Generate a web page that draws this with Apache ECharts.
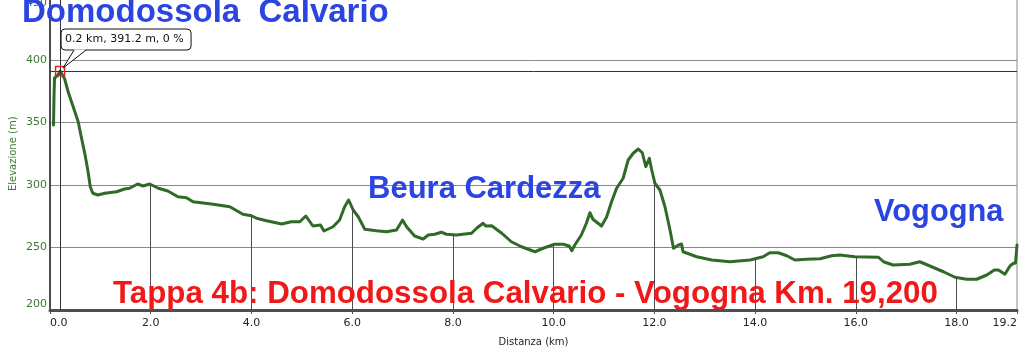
<!DOCTYPE html>
<html><head><meta charset="utf-8">
<script src="https://cdn.jsdelivr.net/npm/echarts/dist/echarts.min.js"></script>
<style>html,body{margin:0;padding:0;background:#fff}#c{width:1024px;height:364px}</style>
</head><body><div id="c"></div>
<script>
// ---- data ----
const distanceKm = [0.07,0.08,0.09,0.16,0.2,0.29,0.36,0.46,0.56,0.62,0.69,0.75,0.80,0.85,0.95,1.09,1.32,1.48,1.58,1.74,1.85,1.98,2.15,2.34,2.54,2.71,2.84,3.24,3.57,3.83,4.0,4.10,4.30,4.60,4.79,4.96,5.08,5.22,5.37,5.44,5.62,5.75,5.85,5.93,6.02,6.12,6.25,6.48,6.68,6.88,7.00,7.08,7.24,7.41,7.51,7.64,7.77,7.87,8.07,8.37,8.47,8.60,8.65,8.77,8.97,9.16,9.36,9.63,9.79,10.02,10.19,10.31,10.36,10.42,10.55,10.65,10.72,10.78,10.95,11.05,11.15,11.25,11.38,11.48,11.58,11.68,11.76,11.83,11.90,11.94,12.01,12.11,12.21,12.31,12.38,12.48,12.54,12.57,12.84,13.14,13.50,13.90,14.16,14.29,14.46,14.63,14.79,15.02,15.29,15.52,15.68,15.98,16.45,16.55,16.74,17.07,17.27,17.47,17.74,17.97,18.20,18.40,18.60,18.75,18.83,18.96,19.06,19.13,19.17,19.2];
const elevationM = [348,372,385.6,388,391.2,385,374.6,362.6,350.6,338.6,325.4,312,298.6,293.4,292,293.4,294.6,296.8,297.4,300.8,299.2,300.8,297.4,295.2,290.6,289.8,286.6,284.6,282.6,276.6,275.4,273.4,271.4,268.8,270.6,270.6,275.2,267.2,268,263.2,266.6,272,282.6,288,280,274.6,264.6,263.4,262.6,264,272,266.6,259.2,256.8,260,260.6,262.2,260.6,260,261.4,265.4,269.4,267.2,267.4,261.4,254.6,250.6,246.6,249.4,252.6,252.6,251.2,247.4,252,260,269.4,277.8,272.6,267.2,274.2,286.6,297.4,305.4,320,325.4,328.8,325.8,314.6,321.4,313.4,301.4,296,282.6,264,249.4,252,252.8,246.6,242.6,240,238.6,240,242.6,245.8,245.8,243.4,240,240.6,241,243.4,244,242.6,242.2,238.6,236,236.6,238.6,235.2,230.6,226.2,224.6,224.6,228,232,232,228.6,235.2,237.4,237.4,252];
const dropLineKm = [2,4,6,8,10,12,14,16,18];
const cursorKm = 0.2;
const cursorElev = 391.2;
const cursorText = '0.2 km, 391.2 m, 0 %';
const startTitle = 'Domodossola  Calvario';
const midTitle = 'Beura Cardezza';
const endTitle = 'Vogogna';
const stageTitle = 'Tappa 4b: Domodossola Calvario - Vogogna Km. 19,200';
const xName = 'Distanza (km)';
const yName = 'Elevazione (m)';
const xMin = 0, xMax = 19.2, xStep = 2;
const yMin = 200, yMax = 450, yStep = 50;

// ---- build ----
const profile = distanceKm.map((d, i) => [d, elevationM[i]]);
function elevAt(k) {
  for (let i = 1; i < distanceKm.length; i++) {
    if (distanceKm[i] >= k) {
      const t = (k - distanceKm[i-1]) / (distanceKm[i] - distanceKm[i-1]);
      return elevationM[i-1] + t * (elevationM[i] - elevationM[i-1]);
    }
  }
  return elevationM[elevationM.length - 1];
}
const GREEN = '#2f6b26';
const AXIS_GREEN = '#3d7a2e';
const chart = echarts.init(document.getElementById('c'), null, {renderer: 'canvas'});
const titleFont = '"Liberation Sans", Arial, sans-serif';
const smallFont = '"DejaVu Sans", Verdana, sans-serif';

chart.setOption({
  animation: false,
  backgroundColor: '#fff',
  grid: {left: 50, right: 7, top: -2.5, bottom: 54, show: true, borderColor: '#8a8a8a', borderWidth: 1, containLabel: false, outerBoundsMode: 'none'},
  xAxis: {
    type: 'value', min: xMin, max: xMax, interval: xStep,
    name: xName, nameLocation: 'middle', nameGap: 27,
    nameTextStyle: {color: '#222', fontSize: 10, fontFamily: smallFont},
    axisLine: {show: true, lineStyle: {color: '#4a5050', width: 3}},
    axisTick: {show: true, length: 4, lineStyle: {color: '#4a5050', width: 1}},
    axisLabel: {color: '#222', fontSize: 11, fontFamily: smallFont, margin: 8,
      formatter: v => Number(v).toFixed(1), alignMinLabel: 'left', alignMaxLabel: 'right'},
    splitLine: {show: false}
  },
  yAxis: {
    type: 'value', min: yMin, max: yMax, interval: yStep,
    name: yName, nameLocation: 'middle', nameGap: 32, nameMoveOverlap: false,
    nameTextStyle: {color: AXIS_GREEN, fontSize: 10, fontFamily: smallFont},
    axisLine: {show: true, lineStyle: {color: '#4a5050', width: 2}},
    axisTick: {show: false},
    axisLabel: {color: AXIS_GREEN, fontSize: 11, fontFamily: smallFont, margin: 3,
      verticalAlignMinLabel: 'bottom', verticalAlignMaxLabel: 'top'},
    splitLine: {show: true, lineStyle: {color: '#8a8a8a', width: 1}}
  },
  series: [
    {
      type: 'line', data: profile, showSymbol: false, silent: true, z: 1,
      lineStyle: {width: 0, opacity: 0},
      markLine: {
        silent: true, symbol: ['none', 'none'], animation: false,
        label: {show: false},
        lineStyle: {color: '#4d4d4d', width: 1, type: 'solid'},
        data: dropLineKm.map(k => [{coord: [k, yMin]}, {coord: [k, elevAt(k)]}])
          .concat([{xAxis: cursorKm, lineStyle: {color: '#333', width: 1, type: 'solid'}},
                   {yAxis: cursorElev, lineStyle: {color: '#333', width: 1, type: 'solid'}}])
      }
    },
    {
      type: 'line', data: profile, showSymbol: false, z: 3, silent: true,
      lineStyle: {color: GREEN, width: 3, cap: 'round', join: 'round'},
      markPoint: {
        silent: true, animation: false,
        symbol: 'rect', symbolSize: 9,
        itemStyle: {color: 'rgba(255,255,255,0)', borderColor: '#e52222', borderWidth: 1.5},
        label: {show: false},
        data: [{coord: [cursorKm, cursorElev]}]
      }
    }
  ]
});

const p = chart.convertToPixel({gridIndex: 0}, [cursorKm, cursorElev]);
const px = p[0], py = p[1];
chart.setOption({
  graphic: [
    {type: 'text', z: 100, x: 22, y: 12.6, style: {text: startTitle, font: 'bold 33px ' + titleFont, fill: '#2a45e0', verticalAlign: 'middle', align: 'left'}},
    {type: 'text', z: 100, x: 368, y: 189, style: {text: midTitle, font: 'bold 31px ' + titleFont, fill: '#2a45e0', verticalAlign: 'middle', align: 'left'}},
    {type: 'text', z: 100, x: 874, y: 212.6, style: {text: endTitle, font: 'bold 30.8px ' + titleFont, fill: '#2a45e0', verticalAlign: 'middle', align: 'left'}},
    {type: 'text', z: 100, x: 113, y: 294.3, style: {text: stageTitle, font: 'bold 31.3px ' + titleFont, fill: '#f01818', verticalAlign: 'middle', align: 'left'}},
    {type: 'rect', z: 110, shape: {x: px + 1, y: py - 42, width: 130, height: 21, r: 4}, style: {fill: '#fff', stroke: '#111', lineWidth: 1}},
    {type: 'polygon', z: 111, shape: {points: [[px + 14, py - 21.5], [px + 3, py - 3], [px + 26, py - 21.5]]}, style: {fill: '#fff', stroke: null}},
    {type: 'polyline', z: 112, shape: {points: [[px + 14, py - 21], [px + 3, py - 3], [px + 26, py - 21]]}, style: {stroke: '#111', lineWidth: 1, fill: null}},
    {type: 'text', z: 113, x: px + 5, y: py - 31.5, style: {text: cursorText, font: '11px ' + smallFont, fill: '#111', verticalAlign: 'middle', align: 'left'}}
  ]
});
</script>
</body></html>
